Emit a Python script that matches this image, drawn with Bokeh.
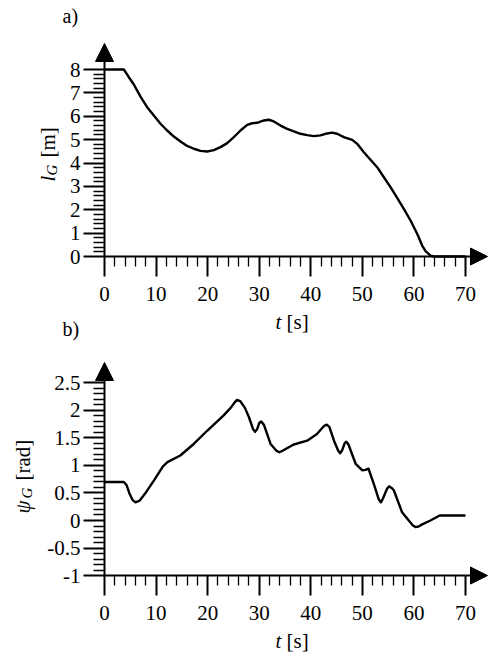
import math
from bokeh.plotting import figure
from bokeh.models import Range1d, FixedTicker, Label, Arrow, NormalHead, LinearAxis
from bokeh.layouts import column
from bokeh.embed import file_html
from bokeh.resources import INLINE

# ---------------- data ----------------
t_a = [0, 3.75, 4.72, 5.69, 6.98, 8.27, 9.57, 10.86, 12.15, 13.44, 14.74, 16.03, 17.32,
       18.62, 19.91, 21.20, 22.49, 23.79, 25.08, 26.37, 27.67, 28.63, 29.60, 30.90,
       31.86, 32.83, 34.13, 35.42, 36.71, 38.01, 39.30, 40.59, 41.88, 42.85, 44.14,
       45.11, 46.41, 48.03, 49.0, 50.29, 51.58, 52.87, 54.17, 55.46, 56.75, 58.04,
       59.34, 60.63, 61.60, 62.25, 63.22, 63.86, 70]
l_g = [8.0, 8.0, 7.67, 7.36, 6.84, 6.39, 6.03, 5.68, 5.39, 5.13, 4.92, 4.73, 4.61,
       4.52, 4.49, 4.55, 4.68, 4.85, 5.11, 5.39, 5.63, 5.70, 5.72, 5.82,
       5.85, 5.78, 5.60, 5.46, 5.35, 5.25, 5.19, 5.15, 5.18, 5.25, 5.30,
       5.25, 5.11, 4.99, 4.82, 4.46, 4.14, 3.82, 3.39, 2.97, 2.51, 2.04,
       1.54, 0.97, 0.47, 0.23, 0.04, 0.0, 0.0]

t_b = [0, 3.75, 4.3, 4.8, 5.4, 6.0, 6.8, 7.8, 9.6, 11.3, 12.2, 14.7, 17.3, 19.9, 23.1,
       24.5, 25.2, 25.7, 26.3, 27.2, 28.0, 28.8, 29.2, 29.6, 30.0, 30.4, 30.9, 32.2,
       33.3, 33.9, 34.6, 36.7, 39.3, 41.2, 42.6, 43.1, 43.6, 44.5, 45.3, 45.7, 46.1,
       46.6, 46.9, 47.3, 48.7, 50.0, 50.6, 51.2, 52.2, 53.2, 53.6, 54.0, 54.8, 55.2,
       55.7, 56.1, 57.7, 59.0, 59.8, 60.3, 60.9, 61.6, 63.2, 65.0, 70]
psi_g = [0.70, 0.70, 0.64, 0.50, 0.38, 0.33, 0.36, 0.48, 0.73, 0.98, 1.06, 1.18, 1.39,
         1.63, 1.91, 2.05, 2.14, 2.19, 2.17, 2.05, 1.88, 1.66, 1.61, 1.66, 1.77, 1.80,
         1.74, 1.39, 1.27, 1.24, 1.27, 1.38, 1.45, 1.57, 1.72, 1.74, 1.70, 1.45, 1.27,
         1.22, 1.28, 1.41, 1.43, 1.38, 1.03, 0.91, 0.92, 0.94, 0.67, 0.38, 0.33, 0.40,
         0.58, 0.62, 0.59, 0.55, 0.15, 0.0, -0.09, -0.12, -0.11, -0.07, 0.0, 0.09, 0.09]

x_major = [0, 10, 20, 30, 40, 50, 60, 70]
x_minor = [v for v in range(0, 71, 2) if v % 10]
ya_major = [0, 1, 2, 3, 4, 5, 6, 7, 8]
ya_minor = [round(i * 0.2, 1) for i in range(41) if i % 5]
yb_major = [-1, -0.5, 0, 0.5, 1, 1.5, 2, 2.5]
yb_labels = ["-1", "-0.5", "0", "0.5", "1", "1.5", "2", "2.5"]
yb_minor = [round(-1 + 0.1 * i, 1) for i in range(36) if i % 5]

FONT = "Liberation Serif"

# ---------------- geometry (page px) ----------------
W = 489
SX = 361 / 70.0           # px per second  (t=0 at x=104)
SYA = 187 / 8.0           # px per metre   (l=0 at y=256)
SYB = 192.7 / 3.5         # px per rad     (psi=0 at y=520)
H1 = 311                  # top canvas height
H2 = 655 - H1             # bottom canvas height
DB = 8                    # baseline correction for Label text


def xd(px):
    return (px - 104) / SX

def ya(py):
    return (256 - py) / SYA

def yb(py):
    return (520 - py) / SYB


def make_axes(p, ymajor, yminor, xloc, ybounds, overrides=None):
    xa = LinearAxis(fixed_location=xloc, bounds=(0, 70),
                    ticker=FixedTicker(ticks=x_major, minor_ticks=x_minor))
    yax = LinearAxis(fixed_location=0, bounds=ybounds,
                     ticker=FixedTicker(ticks=ymajor, minor_ticks=yminor))
    for ax in (xa, yax):
        ax.axis_line_width = 2
        ax.axis_line_color = "black"
        ax.major_tick_line_width = 2
        ax.major_tick_line_color = "black"
        ax.minor_tick_line_width = 1.3
        ax.minor_tick_line_color = "black"
        ax.major_tick_in = 0
        ax.minor_tick_in = 0
        ax.major_label_text_font = FONT
        ax.major_label_text_font_size = "21px"
        ax.major_label_text_color = "black"
        ax.major_label_text_font_style = "normal"
    xa.major_tick_out = 20
    xa.minor_tick_out = 10
    yax.major_tick_out = 21
    yax.minor_tick_out = 11
    xa.major_label_standoff = 10
    yax.major_label_standoff = 3
    if overrides:
        yax.major_label_overrides = overrides
    p.add_layout(xa, "below")
    p.add_layout(yax, "left")


def base(h, yr):
    p = figure(width=W, height=h, output_backend="svg", toolbar_location=None,
               x_range=Range1d(xd(0), xd(W)), y_range=yr,
               x_axis_type=None, y_axis_type=None, min_border=0)
    p.outline_line_color = None
    p.background_fill_color = "white"
    p.border_fill_color = "white"
    return p


def hlab(p, yf, px, py, text, size="21px", style_="normal"):
    """horizontal text, left end of baseline at page pixel (px, py)"""
    p.add_layout(Label(x=xd(px), y=yf(py - DB), text=text, text_font=FONT,
                       text_font_size=size, text_font_style=style_, text_color="black",
                       text_align="left", text_baseline="alphabetic"))


def vlab(p, yf, px, py, text, size="21px", style_="normal"):
    """text rotated 90deg, baseline at page x px, starting at page y py"""
    p.add_layout(Label(x=xd(px - DB), y=yf(py), text=text, text_font=FONT,
                       text_font_size=size, text_font_style=style_, text_color="black",
                       angle=math.pi / 2, text_align="left", text_baseline="alphabetic"))


def arrow(p, x0, y0, x1, y1, size):
    p.add_layout(Arrow(x_start=x0, y_start=y0, x_end=x1, y_end=y1, line_width=2,
                       line_color="black",
                       end=NormalHead(size=size, fill_color="black", line_color="black",
                                      line_width=1)))


# ---------------- top chart ----------------
p1 = base(H1, Range1d(ya(H1), ya(0)))
make_axes(p1, ya_major, ya_minor, 0, (0, 8))
p1.line(t_a, l_g, line_width=2.4, line_color="black", line_join="round")
arrow(p1, 70, 0, xd(487), 0, 17)
arrow(p1, 0, 8, 0, ya(43), 18)
hlab(p1, ya, 62, 23, "a)", size="20px")
vlab(p1, ya, 55, 181, "l", style_="italic")
vlab(p1, ya, 59, 175, "G", size="15px", style_="italic")
vlab(p1, ya, 55, 157, "[m]")

# ---------------- bottom chart ----------------
p2 = base(H2, Range1d(yb(655), yb(H1)))
make_axes(p2, yb_major, yb_minor, -1, (-1, 2.5), dict(zip(yb_major, yb_labels)))
p2.line(t_b, psi_g, line_width=2.4, line_color="black", line_join="round")
arrow(p2, 70, -1, xd(487), -1, 17)
arrow(p2, 0, 2.5, 0, yb(362), 18)
# x title of the top chart (its glyphs reach into this canvas)
hlab(p2, yb, 275, 329, "t", style_="italic")
hlab(p2, yb, 286, 329, "[s]")
hlab(p2, yb, 62, 336, "b)", size="20px")
vlab(p2, yb, 30, 513, "ψ", style_="italic")
vlab(p2, yb, 34, 498, "G", size="15px", style_="italic")
vlab(p2, yb, 30, 480, "[rad]")
hlab(p2, yb, 275, 648, "t", style_="italic")
hlab(p2, yb, 286, 648, "[s]")

layout = column(p1, p2, spacing=0)
open("out.html", "w").write(file_html(layout, INLINE))
